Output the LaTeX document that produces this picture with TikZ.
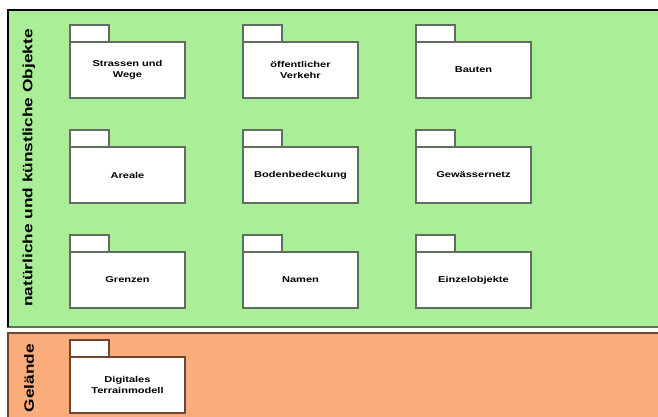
\documentclass[tikz,border=0pt]{standalone}
\usepackage{fontspec}
\setmainfont{Liberation Sans}
\usepackage{graphicx}
\definecolor{zgreen}{RGB}{170,238,152}
\definecolor{zorange}{RGB}{250,172,122}
\definecolor{gframe}{RGB}{95,110,95}
\definecolor{oframe}{RGB}{110,70,50}
\newcommand{\wl}[1]{\scalebox{1.3}[1]{#1}}
\tikzset{
  region/.style={line width=1.4pt},
  pkg/.style={draw=#1, fill=white, line width=1.3pt, minimum width=115pt, minimum height=56pt,
    outer sep=0pt, inner sep=1pt, align=center, font=\fontsize{8.5}{11}\selectfont\bfseries},
  tab/.style={draw=#1, fill=white, line width=1.3pt},
  side/.style={rotate=90, font=\fontsize{13.5}{15}\selectfont\bfseries, inner sep=0pt}
}
\begin{document}
\begin{tikzpicture}[x=1pt,y=1pt]
\useasboundingbox (0,0) rectangle (658,417);
\fill[white] (0,0) rectangle (658,417);
% regions
\draw[region, fill=zgreen, draw=gframe] (8,407) rectangle (672,90);
\draw[region, fill=zorange, draw=oframe] (8,84) rectangle (672,-20);
\draw[black, line width=1.4pt] (8,90) -- (8,407) -- (672,407);
% side labels
\node[side] (lg) at (29,249) {\scalebox{1.28}[1]{natürliche und künstliche Objekte}};
\node[side] (lgel) at (29,39) {\scalebox{1.28}[1]{Gelände}};
% packages
\foreach \nm/\x/\y/\txt in {
  a/127.5/347/{\wl{Strassen und}\\\wl{Wege}},
  b/300.5/347/{\wl{öffentlicher}\\\wl{Verkehr}},
  c/473.5/347/{\wl{Bauten}},
  d/127.5/242/{\wl{Areale}},
  e/300.5/242/{\wl{Bodenbedeckung}},
  f/473.5/242/{\wl{Gewässernetz}},
  g/127.5/137/{\wl{Grenzen}},
  h/300.5/137/{\wl{Namen}},
  i/473.5/137/{\wl{Einzelobjekte}}}{
  \node[pkg=gframe] (\nm) at (\x,\y) {\txt};
  \draw[tab=gframe] (\nm.north west) rectangle ++(39,17);
}
\node[pkg=oframe] (j) at (127.5,32) {\wl{Digitales}\\\wl{Terrainmodell}};
\draw[tab=oframe] (j.north west) rectangle ++(39,17);
\end{tikzpicture}
\end{document}
